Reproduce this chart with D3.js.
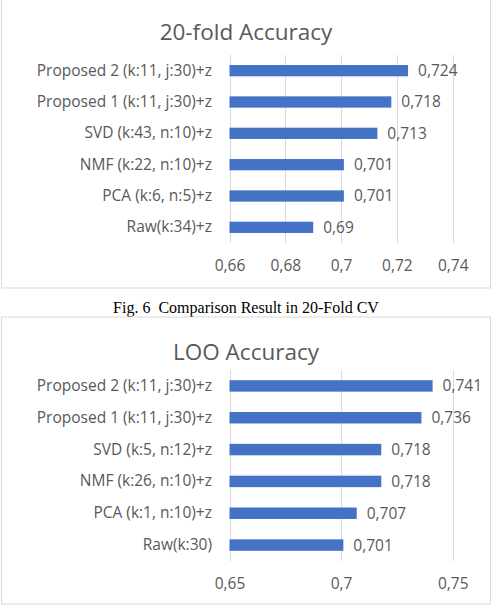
<!DOCTYPE html>
<html>
<head>
<meta charset="utf-8">
<script src="https://cdn.jsdelivr.net/npm/d3@7"></script>
<style>
  body { margin: 0; background: #fff; }
  svg { display: block; }
</style>
</head>
<body>
<div id="root"></div>
<script>
// chart 1: 20-fold CV
const foldCategories = [
    "Proposed 2 (k:11, j:30)+z",
    "Proposed 1 (k:11, j:30)+z",
    "SVD (k:43, n:10)+z",
    "NMF (k:22, n:10)+z",
    "PCA (k:6, n:5)+z",
    "Raw(k:34)+z"
];
const foldValues = [0.724, 0.718, 0.713, 0.701, 0.701, 0.69];
const foldTicks = [0.66, 0.68, 0.70, 0.72, 0.74];

// chart 2: leave-one-out
const looCategories = [
    "Proposed 2 (k:11, j:30)+z",
    "Proposed 1 (k:11, j:30)+z",
    "SVD (k:5, n:12)+z",
    "NMF (k:26, n:10)+z",
    "PCA (k:1, n:10)+z",
    "Raw(k:30)"
];
const looValues = [0.741, 0.736, 0.718, 0.718, 0.707, 0.701];
const looTicks = [0.65, 0.70, 0.75];

const width = 492, height = 608;
const font = "'Open Sans', sans-serif";
const labelSize = 15.5;
const textColor = "#595959";
const gridColor = "#d9d9d9";
const barColor = "#4472c4";

const locale = d3.formatLocale({decimal: ",", thousands: ".", grouping: [3], currency: ["", ""]});
const fmt = locale.format("~r");

const svg = d3.select("#root").append("svg")
    .attr("width", width)
    .attr("height", height);

function drawChart(top, bottom, title, categories, values, ticks, plotTop, plotBottom) {
    let g = svg.append("g");

    g.append("rect")
        .attr("x", 1.5)
        .attr("y", top)
        .attr("width", 489)
        .attr("height", bottom - top)
        .attr("fill", "#fff")
        .attr("stroke", gridColor)
        .attr("stroke-width", 1);

    g.append("text")
        .attr("x", 246)
        .attr("y", top + 43)
        .attr("text-anchor", "middle")
        .attr("font-family", font)
        .attr("font-size", 22.5)
        .attr("fill", textColor)
        .text(title);

    let x = d3.scaleLinear()
        .domain([ticks[0], ticks[ticks.length - 1]])
        .range([229.5, 452.7]);

    let y = d3.scaleBand()
        .domain(categories)
        .range([plotTop, plotBottom])
        .paddingInner(0.64)
        .paddingOuter(0.32);

    // gridlines
    g.append("g")
        .selectAll("line")
        .data(ticks)
        .enter()
        .append("line")
        .attr("x1", d => Math.round(x(d)) + 0.5)
        .attr("x2", d => Math.round(x(d)) + 0.5)
        .attr("y1", plotTop)
        .attr("y2", plotBottom)
        .attr("stroke", gridColor)
        .attr("stroke-width", 1);

    // x axis labels
    let xAxis = g.append("g")
        .attr("transform", "translate(0," + (plotBottom + 23) + ")")
        .call(d3.axisBottom(x).tickValues(ticks).tickFormat(fmt).tickSize(0).tickPadding(0));
    xAxis.select(".domain").remove();
    xAxis.selectAll("text")
        .attr("font-family", font)
        .attr("font-size", labelSize)
        .attr("fill", textColor)
        .attr("dy", "0.35em");

    // category labels
    let yAxis = g.append("g")
        .attr("transform", "translate(212,0)")
        .call(d3.axisLeft(y).tickSize(0).tickPadding(0));
    yAxis.select(".domain").remove();
    yAxis.selectAll("text")
        .attr("font-family", font)
        .attr("font-size", labelSize)
        .attr("fill", textColor);

    let rows = categories.map((c, i) => ({name: c, value: values[i]}));

    g.append("g")
        .selectAll("rect")
        .data(rows)
        .enter()
        .append("rect")
        .attr("x", x(ticks[0]))
        .attr("y", d => y(d.name))
        .attr("width", d => x(d.value) - x(ticks[0]))
        .attr("height", y.bandwidth())
        .attr("fill", barColor);

    g.append("g")
        .selectAll("text")
        .data(rows)
        .enter()
        .append("text")
        .attr("x", d => x(d.value) + 10)
        .attr("y", d => y(d.name) + y.bandwidth() / 2)
        .attr("dy", "0.35em")
        .attr("font-family", font)
        .attr("font-size", labelSize)
        .attr("fill", textColor)
        .text(d => fmt(d.value));
}

drawChart(-3, 288, "20-fold Accuracy", foldCategories, foldValues, foldTicks, 55, 243);

svg.append("text")
    .attr("x", 246)
    .attr("y", 313)
    .attr("text-anchor", "middle")
    .attr("font-family", "'Liberation Serif', 'Times New Roman', serif")
    .attr("font-size", 16)
    .attr("fill", "#000")
    .attr("xml:space", "preserve")
    .style("white-space", "pre")
    .text("Fig. 6  Comparison Result in 20-Fold CV");

drawChart(317, 604, "LOO Accuracy", looCategories, looValues, looTicks, 370, 561);
</script>
</body>
</html>
